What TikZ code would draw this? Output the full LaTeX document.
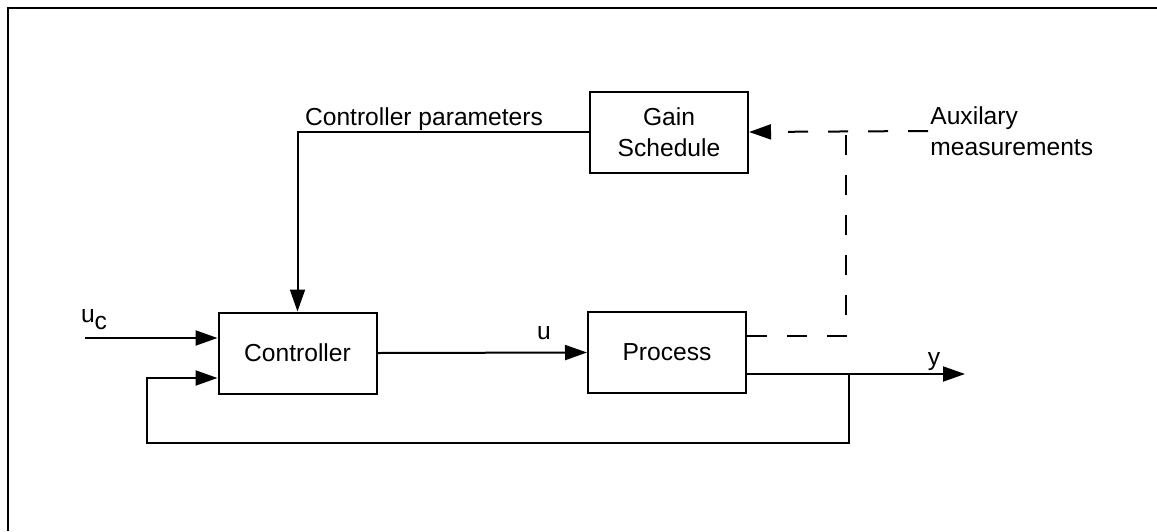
\documentclass[tikz,border=0pt]{standalone}
\usepackage{fontspec}
\setsansfont{Liberation Sans}
\usetikzlibrary{arrows.meta}

\begin{document}
\begin{tikzpicture}[
    x=0.5pt, y=-0.5pt,
    font=\sffamily\fontsize{12.3}{15.5}\selectfont,
    >={Triangle[length=11pt, width=7.5pt]},
    block/.style={draw, line width=1pt, minimum width=79pt,
                  minimum height=40.5pt, inner sep=0pt, align=center},
    sig/.style={line width=1pt, ->},
    auxline/.style={line width=1pt, dash pattern=on 10pt off 10pt},
    lbl/.style={anchor=base},
]

\useasboundingbox (0,0) rectangle (1157,531);

% frame
\draw[line width=1pt] (8,531) -- (8,8) -- (1157,8);

% blocks
\node[block] (ctrl) at (297.5,353) {Controller};
\node[block] (proc) at (667,352.5) {Process};
\node[block] (gain) at (669,132) {Gain\\Schedule};
\node[anchor=west, align=left, inner xsep=1pt] (aux) at (928,131) {Auxilary\\measurements};

% free ends and corners
\coordinate (ucin) at (85,338);
\coordinate (yout) at (965,374);
\coordinate (tap) at (849,374);
\coordinate (fbl) at (147,443);
\coordinate (fb) at (147,378);
\coordinate (meas) at (846,336);

% signals
\draw[sig] (ucin) -- (ucin -| ctrl.west);
\draw[sig] (ctrl.east) -- (proc.west);
\draw[sig] (tap -| proc.east) -- (yout);
\draw[sig] (tap) |- (fbl) -- (fb) -- (fb -| ctrl.west);
\draw[sig] (gain.west) -| (ctrl.north);

% auxiliary measurements
\draw[auxline, ->] (aux.west) -- (gain.east);
\draw[auxline] (meas -| proc.east) -- (meas) -- (meas |- aux.west);

% labels
\node[anchor=base west] (parlbl) at (298,125) {Controller parameters};
\node[anchor=base west] (uclbl) at (74,322) {u\raisebox{-3.5pt}{c}};
\node[lbl] (ulbl) at (544,339) {u};
\node[lbl] (ylbl) at (934,365) {y};

\end{tikzpicture}
\end{document}
